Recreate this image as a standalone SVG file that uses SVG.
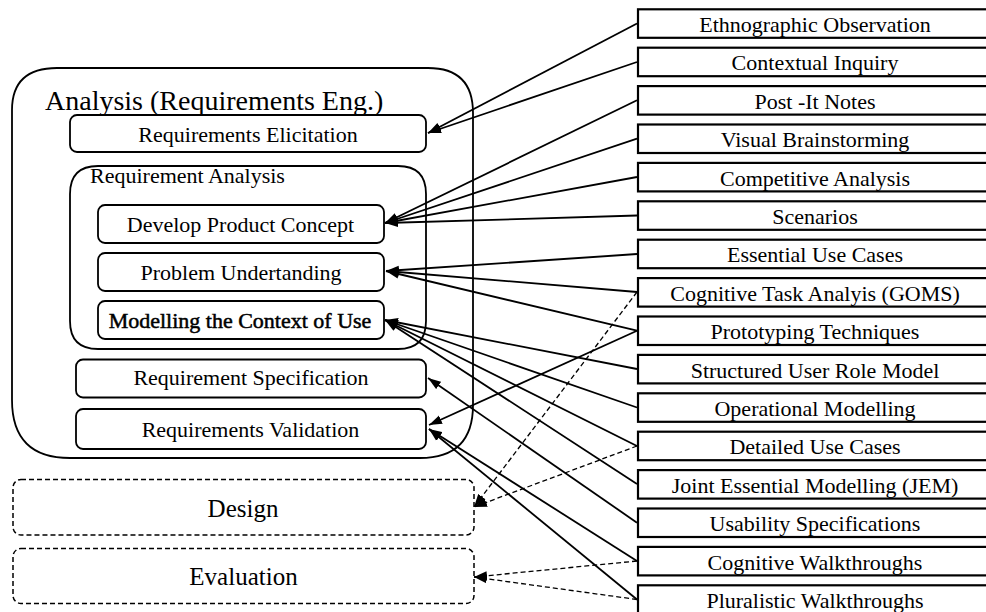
<svg xmlns="http://www.w3.org/2000/svg" width="986" height="612" viewBox="0 0 986 612">
<style>
text{font-family:"Liberation Serif","Times New Roman",serif;fill:#000}
.t{font-size:22px;text-anchor:middle}
.big{font-size:25px;text-anchor:middle}
.rb{fill:#fff;stroke:#000;stroke-width:2.2}
.lb{fill:#fff;stroke:#000;stroke-width:1.8}
.grp{fill:none;stroke:#000;stroke-width:1.8}
.dbox{fill:#fff;stroke:#000;stroke-width:1.5;stroke-dasharray:5 3}
.c{fill:none;stroke:#000;stroke-width:1.8}
.d{fill:none;stroke:#000;stroke-width:1.3;stroke-dasharray:5 3}
</style>
<defs>
<marker id="ah" markerUnits="userSpaceOnUse" markerWidth="14" markerHeight="10" refX="13" refY="5" orient="auto">
<path d="M0,0.5 L13,5 L0,9.5 z" fill="#000"/>
</marker>
</defs>
<rect width="986" height="612" fill="#fff"/>

<g id="analysis">
<path class="grp" d="M57,68 L428,68 Q473,68 473,113 L473,405 Q473,458 420,458 L70,458 Q12,458 12,400 L12,110 Q12,68 57,68 Z"/>
<text x="45" y="110" style="font-size:28px">Analysis (Requirements Eng.)</text>
</g>
<g id="req-elicitation">
<rect class="lb" x="70" y="115" width="356" height="37" rx="7"/>
<text class="t" x="248" y="141.5">Requirements Elicitation</text>
</g>
<g id="req-analysis">
<path class="grp" d="M98,166 L398,166 Q426,166 426,194 L426,321 Q426,349 398,349 L98,349 Q70,349 70,321 L70,194 Q70,166 98,166 Z"/>
<text x="90" y="183" style="font-size:22px">Requirement Analysis</text>
</g>
<g id="develop-product-concept">
<rect class="lb" x="98" y="205" width="286" height="38" rx="7"/>
<text class="t" x="240.5" y="231.5">Develop Product Concept</text>
</g>
<g id="problem-undertanding">
<rect class="lb" x="98" y="253" width="286" height="38" rx="7"/>
<text class="t" x="241" y="280">Problem Undertanding</text>
</g>
<g id="modelling-context">
<rect class="lb" x="98" y="301" width="286" height="38" rx="7"/>
<text class="t" x="240" y="327.5" style="stroke:#000;stroke-width:0.5">Modelling the Context of Use</text>
</g>
<g id="req-specification">
<rect class="lb" x="76" y="359.5" width="350" height="38" rx="7"/>
<text class="t" x="251" y="385">Requirement Specification</text>
</g>
<g id="req-validation">
<rect class="lb" x="76" y="409" width="350" height="40" rx="7"/>
<text class="t" x="250.5" y="436.5">Requirements Validation</text>
</g>
<g id="design">
<rect class="dbox" x="13" y="479.5" width="461" height="55.5" rx="8"/>
<text class="big" x="243" y="516.5">Design</text>
</g>
<g id="evaluation">
<rect class="dbox" x="13" y="548.5" width="461" height="55" rx="8"/>
<text class="big" x="243.5" y="585">Evaluation</text>
</g>

<g id="techniques">
<g id="n-ethno"><rect class="rb" x="638" y="9.3" width="354" height="28.5"/><text class="t" x="815" y="32">Ethnographic Observation</text></g>
<g id="n-contextual"><rect class="rb" x="638" y="47.7" width="354" height="28.5"/><text class="t" x="815" y="70.4">Contextual Inquiry</text></g>
<g id="n-postit"><rect class="rb" x="638" y="86.1" width="354" height="28.5"/><text class="t" x="815" y="108.8">Post -It Notes</text></g>
<g id="n-visual"><rect class="rb" x="638" y="124.5" width="354" height="28.5"/><text class="t" x="815" y="147.2">Visual Brainstorming</text></g>
<g id="n-competitive"><rect class="rb" x="638" y="162.9" width="354" height="28.5"/><text class="t" x="815" y="185.6">Competitive Analysis</text></g>
<g id="n-scenarios"><rect class="rb" x="638" y="201.3" width="354" height="28.5"/><text class="t" x="815" y="224">Scenarios</text></g>
<g id="n-essential"><rect class="rb" x="638" y="239.7" width="354" height="28.5"/><text class="t" x="815" y="262.4">Essential Use Cases</text></g>
<g id="n-goms"><rect class="rb" x="638" y="278.1" width="354" height="28.5"/><text class="t" x="815" y="300.8">Cognitive Task Analyis (GOMS)</text></g>
<g id="n-prototyping"><rect class="rb" x="638" y="316.5" width="354" height="28.5"/><text class="t" x="815" y="339.2">Prototyping Techniques</text></g>
<g id="n-structured"><rect class="rb" x="638" y="354.9" width="354" height="28.5"/><text class="t" x="815" y="377.6">Structured User Role Model</text></g>
<g id="n-operational"><rect class="rb" x="638" y="393.3" width="354" height="28.5"/><text class="t" x="815" y="416">Operational Modelling</text></g>
<g id="n-detailed"><rect class="rb" x="638" y="431.7" width="354" height="28.5"/><text class="t" x="815" y="454.4">Detailed Use Cases</text></g>
<g id="n-jem"><rect class="rb" x="638" y="470.1" width="354" height="28.5"/><text class="t" x="815" y="492.8">Joint Essential Modelling (JEM)</text></g>
<g id="n-usability"><rect class="rb" x="638" y="508.5" width="354" height="28.5"/><text class="t" x="815" y="531.2">Usability Specifications</text></g>
<g id="n-cogwalk"><rect class="rb" x="638" y="546.9" width="354" height="28.5"/><text class="t" x="815" y="569.6">Cognitive Walkthroughs</text></g>
<g id="n-plural"><rect class="rb" x="638" y="585.3" width="354" height="28.5"/><text class="t" x="815" y="608">Pluralistic Walkthroughs</text></g>
</g>

<g id="connectors" marker-end="url(#ah)">
<line class="c" x1="637" y1="23.5" x2="428" y2="133" marker-end="url(#ah)"/>
<line class="c" x1="637" y1="62" x2="428" y2="133" marker-end="url(#ah)"/>
<line class="c" x1="637" y1="100.3" x2="385" y2="223" marker-end="url(#ah)"/>
<line class="c" x1="637" y1="138.7" x2="385" y2="223" marker-end="url(#ah)"/>
<line class="c" x1="637" y1="177" x2="385" y2="223" marker-end="url(#ah)"/>
<line class="c" x1="637" y1="215.5" x2="385" y2="223" marker-end="url(#ah)"/>
<line class="c" x1="637" y1="254" x2="386" y2="271" marker-end="url(#ah)"/>
<line class="c" x1="637" y1="292" x2="386" y2="271" marker-end="url(#ah)"/>
<line class="c" x1="637" y1="330.7" x2="386" y2="271" marker-end="url(#ah)"/>
<line class="c" x1="637" y1="330.7" x2="429" y2="425" marker-end="url(#ah)"/>
<line class="c" x1="637" y1="369" x2="385" y2="320" marker-end="url(#ah)"/>
<line class="c" x1="637" y1="407.5" x2="385" y2="320" marker-end="url(#ah)"/>
<line class="c" x1="637" y1="446" x2="385" y2="320" marker-end="url(#ah)"/>
<line class="c" x1="637" y1="484" x2="385" y2="320" marker-end="url(#ah)"/>
<line class="c" x1="637" y1="522.7" x2="428" y2="378" marker-end="url(#ah)"/>
<line class="c" x1="637" y1="561" x2="429" y2="429" marker-end="url(#ah)"/>
<line class="c" x1="637" y1="599.5" x2="429" y2="429" marker-end="url(#ah)"/>
<line class="d" x1="637" y1="292" x2="474" y2="507" marker-end="url(#ah)"/>
<line class="d" x1="637" y1="446" x2="474" y2="507" marker-end="url(#ah)"/>
<line class="d" x1="637" y1="561" x2="474" y2="577" marker-end="url(#ah)"/>
<line class="d" x1="637" y1="599.5" x2="474" y2="577" marker-end="url(#ah)"/>
</g>
</svg>
